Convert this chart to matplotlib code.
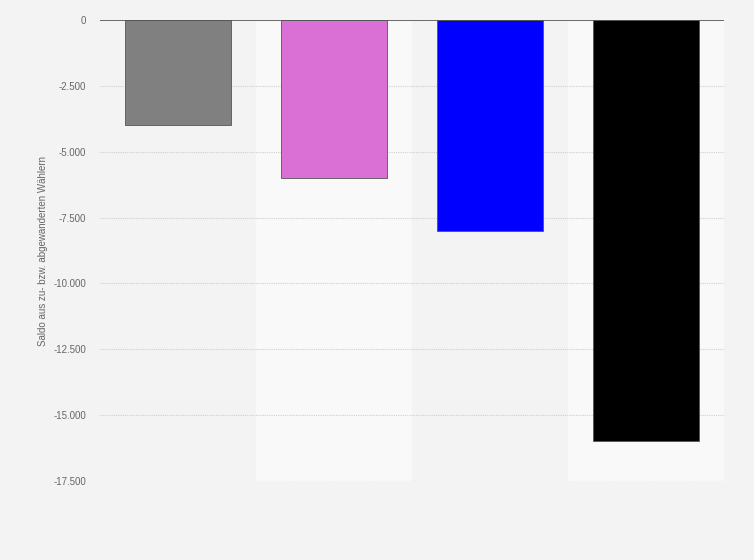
import matplotlib
matplotlib.use("Agg")
import matplotlib.pyplot as plt
from matplotlib.ticker import FuncFormatter

# data
categories = ["A", "B", "C", "D"]
values = [-4000, -6000, -8000, -16000]
colors = ["#808080", "#da70d6", "#0000ff", "#000000"]
yticks = [0, -2500, -5000, -7500, -10000, -12500, -15000, -17500]

plt.rcParams["font.family"] = ["Liberation Sans", "DejaVu Sans"]

fig = plt.figure(figsize=(7.54, 5.6), dpi=100)
fig.patch.set_facecolor("#f3f3f3")
ax = fig.add_axes([100/754, 1-481/560, 624/754, 461/560])
ax.set_facecolor("#f3f3f3")

x = list(range(len(categories)))

# alternating column bands
for i in x:
    if i % 2 == 1:
        ax.axvspan(i-0.5, i+0.5, color="#f9f9f9", zorder=0, lw=0)

ax.set_xlim(-0.5, len(categories)-0.5)
ax.set_ylim(-17500, 0)

# grid
ax.set_yticks(yticks)
ax.yaxis.grid(True, color="#cfcfcf", linestyle=(0, (1, 1)), linewidth=0.8, zorder=1)
ax.set_axisbelow(True)

ax.bar(x, values, width=0.685, color=colors, edgecolor="#555555", linewidth=0.6, zorder=3)
ax.axhline(0, color="#555555", linewidth=1.2, zorder=4)

fmt = FuncFormatter(lambda v, p: f"{int(v):,}".replace(",", "."))
ax.yaxis.set_major_formatter(fmt)
ax.tick_params(axis="y", length=0, labelsize=7, labelcolor="#666666", pad=10)
ax.set_xticks([])
for s in ax.spines.values():
    s.set_visible(False)

ax.set_ylabel("Saldo aus zu- bzw. abgewanderten Wählern", fontsize=7, color="#666666", labelpad=4)

fig.savefig("out.png", dpi=100, facecolor=fig.get_facecolor())
